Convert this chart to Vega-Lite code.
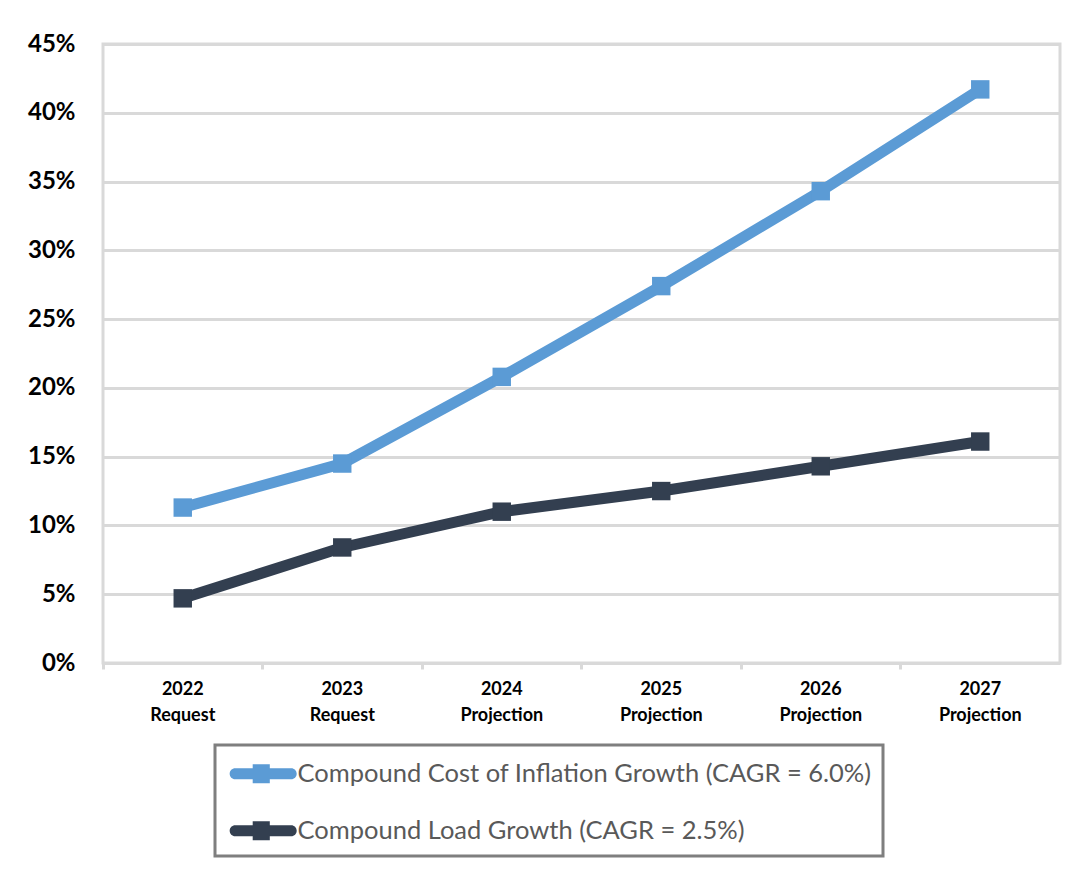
{
  "$schema": "https://vega.github.io/schema/vega-lite/v6.json",
  "width": 957,
  "height": 619,
  "autosize": "none",
  "padding": {"left": 103, "top": 44, "right": 16, "bottom": 208},
  "background": "white",
  "data": {
    "values": [
      {"period": "2022 Request", "series": "Compound Cost of Inflation Growth (CAGR = 6.0%)", "growth": 0.113},
      {"period": "2023 Request", "series": "Compound Cost of Inflation Growth (CAGR = 6.0%)", "growth": 0.145},
      {"period": "2024 Projection", "series": "Compound Cost of Inflation Growth (CAGR = 6.0%)", "growth": 0.208},
      {"period": "2025 Projection", "series": "Compound Cost of Inflation Growth (CAGR = 6.0%)", "growth": 0.274},
      {"period": "2026 Projection", "series": "Compound Cost of Inflation Growth (CAGR = 6.0%)", "growth": 0.343},
      {"period": "2027 Projection", "series": "Compound Cost of Inflation Growth (CAGR = 6.0%)", "growth": 0.417},
      {"period": "2022 Request", "series": "Compound Load Growth (CAGR = 2.5%)", "growth": 0.047},
      {"period": "2023 Request", "series": "Compound Load Growth (CAGR = 2.5%)", "growth": 0.084},
      {"period": "2024 Projection", "series": "Compound Load Growth (CAGR = 2.5%)", "growth": 0.110},
      {"period": "2025 Projection", "series": "Compound Load Growth (CAGR = 2.5%)", "growth": 0.125},
      {"period": "2026 Projection", "series": "Compound Load Growth (CAGR = 2.5%)", "growth": 0.143},
      {"period": "2027 Projection", "series": "Compound Load Growth (CAGR = 2.5%)", "growth": 0.161}
    ]
  },
  "mark": {
    "type": "line",
    "strokeWidth": 11,
    "point": {"shape": "square", "filled": true, "size": 340, "opacity": 1}
  },
  "encoding": {
    "x": {
      "field": "period",
      "type": "nominal",
      "sort": null,
      "scale": {"type": "band", "paddingInner": 0, "paddingOuter": 0},
      "axis": {
        "title": null,
        "labelAngle": 0,
        "labelExpr": "split(datum.value, ' ')",
        "labelFont": "Lato",
        "labelFontWeight": "bold",
        "labelFontSize": 18,
        "labelColor": "#000000",
        "labelLineHeight": 26,
        "labelPadding": 11,
        "bandPosition": 0,
        "ticks": true,
        "tickColor": "#d9d9d9",
        "tickWidth": 3,
        "tickSize": 6,
        "domain": false,
        "grid": false
      }
    },
    "y": {
      "field": "growth",
      "type": "quantitative",
      "scale": {"domain": [0, 0.45], "nice": false},
      "axis": {
        "title": null,
        "values": [0, 0.05, 0.1, 0.15, 0.2, 0.25, 0.3, 0.35, 0.4, 0.45],
        "format": ".0%",
        "labelFont": "Lato",
        "labelFontWeight": "bold",
        "labelFontSize": 24,
        "labelColor": "#000000",
        "labelPadding": 28,
        "ticks": false,
        "domain": false,
        "grid": true,
        "gridColor": "#d9d9d9",
        "gridWidth": 3
      }
    },
    "color": {
      "field": "series",
      "type": "nominal",
      "scale": {
        "domain": ["Compound Cost of Inflation Growth (CAGR = 6.0%)", "Compound Load Growth (CAGR = 2.5%)"],
        "range": ["#5b9bd5", "#333f50"]
      },
      "legend": {
        "title": " ",
        "titleFontSize": 5,
        "titlePadding": 0,
        "orient": "none",
        "legendX": 112,
        "legendY": 701,
        "direction": "vertical",
        "strokeColor": "#7f7f7f",
        "padding": 11,
        "symbolType": "M-0.4,-0.61H1.55V-1.05H3.45V-0.61H5.83A0.61,0.61 0 0 1 5.83,0.61H3.45V1.05H1.55V0.61H-0.4A0.61,0.61 0 0 1 -0.4,-0.61Z",
        "symbolSize": 324,
        "symbolStrokeWidth": 0,
        "symbolOpacity": 1,
        "labelOffset": 46,
        "labelFont": "Lato",
        "labelFontSize": 25.5,
        "labelColor": "#595959",
        "labelLimit": 800,
        "rowPadding": 30,
        "encode": {
          "legend": {
            "update": {"strokeWidth": {"value": 3}}
          },
          "symbols": {
            "update": {
              "fill": {"scale": "color", "field": "value"},
              "strokeWidth": {"value": 0}
            }
          }
        }
      }
    }
  },
  "config": {
    "view": {"stroke": "#d9d9d9", "strokeWidth": 3}
  }
}
